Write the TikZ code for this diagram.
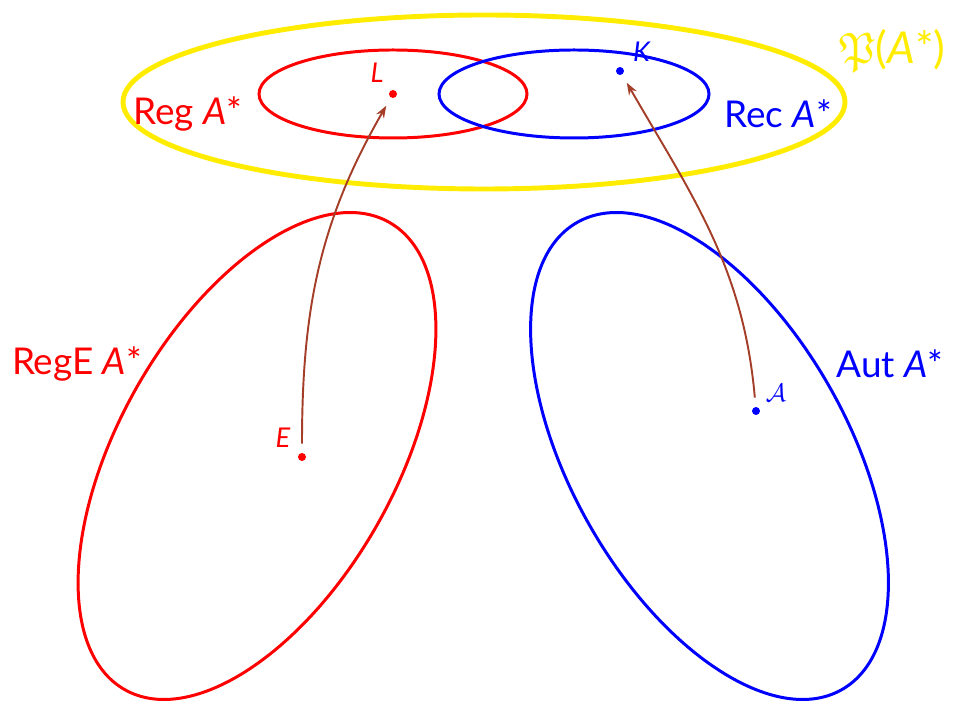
\documentclass[tikz,border=0pt]{standalone}
\usepackage{amssymb}
\usepackage{fontspec}
\setmainfont{Lato}
\usetikzlibrary{arrows.meta}
\definecolor{arrowbrown}{RGB}{165,62,40}
\definecolor{setyellow}{RGB}{255,236,0}

\begin{document}
\begin{tikzpicture}[thick,
    setline/.style = {line width=1.7pt},
    bigset/.style = {setyellow, line width=2.8pt},
    dotnode/.style = {circle, fill, minimum size=0.16cm, inner sep=0pt},
    biglabel/.style = {font=\fontsize{21}{24}\selectfont},
    ptlabel/.style = {font=\fontsize{15.5}{18}\selectfont},
    maparrow/.style = {arrowbrown, line width=1.1pt, -{Stealth[length=7pt,width=5pt]},
        shorten <=5pt, shorten >=5pt}]
    \useasboundingbox (0,0) rectangle (19.06,14.06);
    % power set and the two classes of languages
    \draw[bigset] (9.68,12.02) ellipse [x radius=7.22, y radius=1.74];
    \draw[setline, red] (7.86,12.18) ellipse [x radius=2.68, y radius=0.88];
    \draw[setline, blue] (11.48,12.18) ellipse [x radius=2.70, y radius=0.88];
    % expressions and automata
    \draw[setline, red] (5.14,4.94) ellipse [x radius=5.37, y radius=2.77, rotate=60.5];
    \draw[setline, blue] (14.19,4.94) ellipse [x radius=5.37, y radius=2.77, rotate=-60.5];

    \node[setyellow, font=\fontsize{25}{29}\selectfont] (pset) at (17.85,13.04) {$\mathfrak{P}$(\textit{A}*)};
    \node[biglabel, red] (reg) at (3.76,11.78) {Reg \textit{A}*};
    \node[biglabel, blue] (rec) at (15.56,11.78) {Rec \textit{A}*};
    \node[biglabel, red] (rege) at (1.54,6.78) {RegE \textit{A}*};
    \node[biglabel, blue] (aut) at (17.80,6.78) {Aut \textit{A}*};

    \node[dotnode, red] (L) at (7.86,12.18) {};
    \node[dotnode, blue] (K) at (12.40,12.64) {};
    \node[dotnode, red] (E) at (6.04,4.92) {};
    \node[dotnode, blue] (A) at (15.12,5.84) {};
    \node[ptlabel, red] (Llab) at (7.54,12.60) {\textit{L}};
    \node[ptlabel, blue] (Klab) at (12.84,13.02) {\textit{K}};
    \node[ptlabel, red] (Elab) at (5.66,5.30) {\textit{E}};
    \node[ptlabel, blue] (Alab) at (15.52,6.20) {$\mathcal{A}$};

    \draw[maparrow] (E) to[out=90, in=240] (L);
    \draw[maparrow] (A) to[out=95, in=300] (K);
\end{tikzpicture}
\end{document}
